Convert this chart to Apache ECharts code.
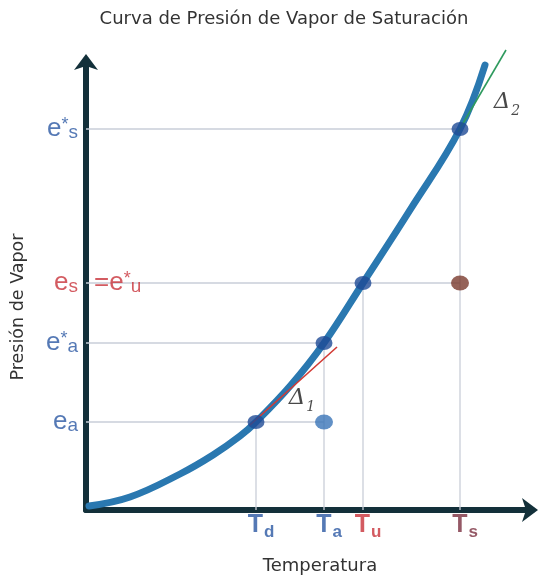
<!DOCTYPE html>
<html>
<head>
<meta charset="utf-8">
<script src="https://cdn.jsdelivr.net/npm/echarts@6/dist/echarts.min.js"></script>
<style>
  html, body { margin: 0; padding: 0; background: #ffffff; }
  #chart { width: 542px; height: 576px; }
</style>
</head>
<body>
<div id="chart"></div>
<script>
// Characteristic temperatures (arbitrary units): Td, Ta, Tu, Ts
const tempSubs   = ['d', 'a', 'u', 's'];
const tempValues = [17.0, 23.8, 27.7, 37.4];
const tempColors = ['#2b58a2', '#2b58a2', '#c8323a', '#7a3040'];

// Vapour pressures: ea, e*a, es (= e*u), e*s
const presValues = [8.8, 16.7, 22.7, 38.1];

// Saturation vapour pressure curve, sampled
const curveT = [0.3, 4.4, 9.4, 12.7, 15.4, 17.0, 20.5, 23.8, 27.7, 32.4, 37.4, 39.9];
const curveE = [0.4, 1.3, 3.6, 5.5, 7.4, 8.8, 12.5, 16.7, 22.7, 30.0, 38.1, 44.5];

// Tangent segments (Δ1 at the dew point, Δ2 at Ts)
const tangent1T = [16.4, 25.1];
const tangent1E = [8.5, 16.3];
const tangent2T = [37.2, 42.0];
const tangent2E = [37.8, 46.0];

const [Td, Ta, Tu, Ts] = tempValues;
const [ea, eStarA, es, eStarS] = presValues;

const BLUE = '#2b58a2';
const RED = '#c8323a';
const GUIDE = '#c9ced8';
const AXIS = '#13303a';

const chart = echarts.init(document.getElementById('chart'), null, { renderer: 'canvas' });

function seg(x1, y1, x2, y2) {
  return {
    type: 'line', data: [[x1, y1], [x2, y2]], symbol: 'none', silent: true,
    lineStyle: { color: GUIDE, width: 1.3 }, z: 1
  };
}

const guides = [
  // horizontal guides
  seg(0, eStarS, Ts, eStarS),
  seg(0, es, Ts, es),
  seg(0, eStarA, Ta, eStarA),
  seg(0, ea, Ta, ea),
  // vertical guides
  seg(Td, 0, Td, ea),
  seg(Ta, 0, Ta, eStarA),
  seg(Tu, 0, Tu, es),
  seg(Ts, 0, Ts, eStarS)
];

const richY = {
  e:  { fontSize: 26, fontFamily: 'Liberation Sans', verticalAlign: 'middle', lineHeight: 26 },
  st: { fontSize: 18, fontFamily: 'Liberation Sans', verticalAlign: 'top', lineHeight: 26 },
  sb: { fontSize: 19, fontFamily: 'Liberation Sans', verticalAlign: 'bottom', lineHeight: 19 }
};
function colorRich(c) {
  const r = {};
  Object.keys(richY).forEach(k => { r[k] = Object.assign({ color: c }, richY[k]); });
  return r;
}

const yLabels = {
  type: 'scatter', symbolSize: 0, silent: true, z: 5,
  data: [
    { value: [0, eStarS], label: { formatter: '{e|e}{st|*}{sb|s}', rich: colorRich(BLUE) } },
    { value: [0, eStarA], label: { formatter: '{e|e}{st|*}{sb|a}', rich: colorRich(BLUE) } },
    { value: [0, ea],     label: { formatter: '{e|e}{sb|a}', rich: colorRich(BLUE) } },
    { value: [0, es],     label: { formatter: '{e|e}{sb|s}', rich: colorRich(RED) } }
  ],
  label: { show: true, position: 'left', distance: 8 }
};

const yLabelRight = {
  type: 'scatter', symbolSize: 0, silent: true, z: 5,
  data: [{ value: [0, es] }],
  label: { show: true, position: 'right', distance: 8, formatter: '{e|=e}{st|*}{sb|u}', rich: colorRich(RED) }
};

const xLabels = {
  type: 'scatter', symbolSize: 0, silent: true, z: 5,
  data: tempValues.map((t, i) => ({
    value: [t, 0],
    label: {
      formatter: '{T|T}{s|' + tempSubs[i] + '}',
      rich: {
        T: { fontSize: 25, fontWeight: 'bold', fontFamily: 'Liberation Sans', color: tempColors[i], lineHeight: 26, verticalAlign: 'bottom' },
        s: { fontSize: 17, fontWeight: 'bold', fontFamily: 'Liberation Sans', color: tempColors[i], lineHeight: 18, verticalAlign: 'bottom', padding: [0, 0, -3, 1] }
      }
    }
  })),
  label: { show: true, position: 'bottom', distance: 2, offset: [5, 0] }
};

const curve = {
  type: 'line', smooth: 0.4, symbol: 'none', z: 3, silent: true,
  data: curveT.map((t, i) => [t, curveE[i]]),
  lineStyle: { color: '#2a78b0', width: 7, cap: 'round' }
};

const tangent1 = {
  type: 'line', symbol: 'none', z: 4, silent: true,
  data: tangent1T.map((t, i) => [t, tangent1E[i]]),
  lineStyle: { color: '#d23a34', width: 1.6 }
};
const tangent2 = {
  type: 'line', symbol: 'none', z: 4, silent: true, clip: false,
  data: tangent2T.map((t, i) => [t, tangent2E[i]]),
  lineStyle: { color: '#2e9a5e', width: 1.6 }
};

const curvePoints = {
  type: 'scatter', z: 6, silent: true,
  symbol: 'circle', symbolSize: [17, 14],
  itemStyle: { color: '#1f4b96' },
  data: [[Td, ea], [Ta, eStarA], [Tu, es], [Ts, eStarS]]
};
const offPoints = {
  type: 'scatter', z: 6, silent: true,
  symbol: 'circle', symbolSize: [18, 15],
  data: [
    { value: [Ta, ea], itemStyle: { color: '#3a74b8' } },
    { value: [Ts, es], itemStyle: { color: '#7a3b2e' } }
  ]
};

const deltaRich = {
  d: { fontSize: 23, fontStyle: 'italic', fontFamily: 'DejaVu Serif', color: '#1a1a1a', verticalAlign: 'bottom', lineHeight: 24 },
  n: { fontSize: 14, fontStyle: 'italic', fontFamily: 'DejaVu Serif', color: '#1a1a1a', verticalAlign: 'bottom', lineHeight: 14, padding: [0, 0, -4, 1] }
};
const deltas = {
  type: 'scatter', symbolSize: 0, silent: true, z: 7,
  data: [
    { value: [21.6, 11.2], label: { formatter: '{d|Δ}{n|1}' } },
    { value: [42.1, 40.8], label: { formatter: '{d|Δ}{n|2}' } }
  ],
  label: { show: true, position: 'inside', rich: deltaRich }
};

const option = {
  backgroundColor: '#ffffff',
  animation: false,
  grid: { left: 86, right: 10, top: 60, bottom: 66, containLabel: false },
  xAxis: {
    type: 'value', min: 0, max: 44.6,
    axisLine: { show: true, onZero: false, symbol: ['none', 'arrow'], symbolSize: [18, 16], symbolOffset: [0, 6],
      lineStyle: { color: AXIS, width: 6, cap: 'round' } },
    axisTick: { show: false }, axisLabel: { show: false }, splitLine: { show: false }
  },
  yAxis: {
    type: 'value', min: 0, max: 45.0,
    axisLine: { show: true, onZero: false, symbol: ['none', 'arrow'], symbolSize: [18, 16], symbolOffset: [0, 6],
      lineStyle: { color: AXIS, width: 6, cap: 'round' } },
    axisTick: { show: false }, axisLabel: { show: false }, splitLine: { show: false }
  },
  graphic: [
    { type: 'text', x: 284, y: 19, silent: true,
      style: { text: 'Curva de Presión de Vapor de Saturación', fill: '#333', fontSize: 18, fontFamily: 'DejaVu Sans', align: 'center', verticalAlign: 'middle' } },
    { type: 'text', x: 320, y: 566, silent: true,
      style: { text: 'Temperatura', fill: '#333', fontSize: 18, fontFamily: 'DejaVu Sans', align: 'center', verticalAlign: 'middle' } },
    { type: 'text', x: 18, y: 307, rotation: Math.PI / 2, silent: true,
      style: { text: 'Presión de Vapor', fill: '#333', fontSize: 17.5, fontFamily: 'DejaVu Sans', align: 'center', verticalAlign: 'middle' } }
  ],
  series: guides.concat([curve, tangent1, tangent2, curvePoints, offPoints, yLabels, yLabelRight, xLabels, deltas])
};

chart.setOption(option);
</script>
</body>
</html>
